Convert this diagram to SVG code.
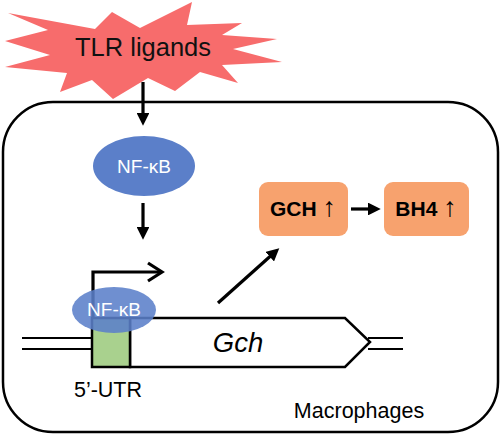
<svg xmlns="http://www.w3.org/2000/svg" width="500" height="436" viewBox="0 0 500 436">
<defs>
<style>
text{font-family:"Liberation Sans",Arial,sans-serif}
.ln{stroke:#000;stroke-width:3.2;fill:none}
.thin{stroke:#000;stroke-width:2;fill:none}
.nfk{fill:#5B7FC9}
.wt{fill:#fff;font-size:19px;text-anchor:middle}
.box{fill:#F7A26E}
.bt{font-size:21px;font-weight:bold;text-anchor:middle}
.up{font-size:27px;font-weight:normal}
</style>
<marker id="ah" markerWidth="4" markerHeight="4" refX="2.2" refY="2" orient="auto" markerUnits="strokeWidth">
<path d="M0,0 L4,2 L0,4 Z" fill="#000"/>
</marker>
</defs>
<rect x="3" y="102" width="495" height="330" rx="50" ry="50" fill="#fff" stroke="#000" stroke-width="2.5"/>
<g id="tlr">
<polygon points="8,13 95,29 112,12 140,28 192,2 187,25 242,23 222,35 277,39 233,49 282,62 222,65 238,83 200,72 175,91 148,78 113,99 92,80 60,92 67,73 5,67 50,55 5,41 48,30" fill="#F76C6C"/>
<text x="143" y="56" font-size="25.5" text-anchor="middle" fill="#111">TLR ligands</text>
</g>
<g id="connectors">
<line class="ln" x1="143" y1="82" x2="143" y2="120" marker-end="url(#ah)"/>
<line class="ln" x1="143" y1="203" x2="143" y2="234" marker-end="url(#ah)"/>
<line class="ln" x1="218" y1="303" x2="275" y2="252" marker-end="url(#ah)"/>
<line class="ln" x1="351" y1="209" x2="375" y2="209" marker-end="url(#ah)"/>
</g>
<g id="dna">
<line class="thin" x1="22" y1="338" x2="92" y2="338"/>
<line class="thin" x1="22" y1="349" x2="92" y2="349"/>
<line class="thin" x1="368" y1="338" x2="403" y2="338"/>
<line class="thin" x1="368" y1="349" x2="403" y2="349"/>
</g>
<g id="gch-gene">
<polygon points="130,318 345,318 370,342 345,367 130,367" fill="#fff" stroke="#000" stroke-width="2.5"/>
<text x="238" y="352" font-size="27.5" font-style="italic" text-anchor="middle">Gch</text>
</g>
<g id="utr">
<rect x="92" y="318" width="38" height="49" fill="#A9D18E" stroke="#000" stroke-width="2.5"/>
<text x="108" y="397" font-size="21.5" text-anchor="middle">5’-UTR</text>
</g>
<g id="promoter">
<polyline class="ln" points="93,318 93,272 161,272"/>
<polyline class="ln" points="148,263 162,272 148,281"/>
</g>
<g id="nfkb1">
<ellipse class="nfk" cx="144" cy="166" rx="51" ry="30"/>
<text class="wt" x="144" y="173">NF-κB</text>
</g>
<g id="nfkb2">
<ellipse class="nfk" cx="114" cy="310" rx="42" ry="23" opacity="0.88"/>
<text class="wt" x="114" y="316">NF-κB</text>
</g>
<g id="gch">
<rect class="box" x="259" y="182" width="89" height="54" rx="9"/>
<text class="bt" x="303" y="216">GCH <tspan class="up">↑</tspan></text>
</g>
<g id="bh4">
<rect class="box" x="384" y="182" width="85" height="54" rx="9"/>
<text class="bt" x="426" y="216">BH4 <tspan class="up">↑</tspan></text>
</g>
<text x="359" y="418" font-size="21.5" text-anchor="middle">Macrophages</text>
</svg>
